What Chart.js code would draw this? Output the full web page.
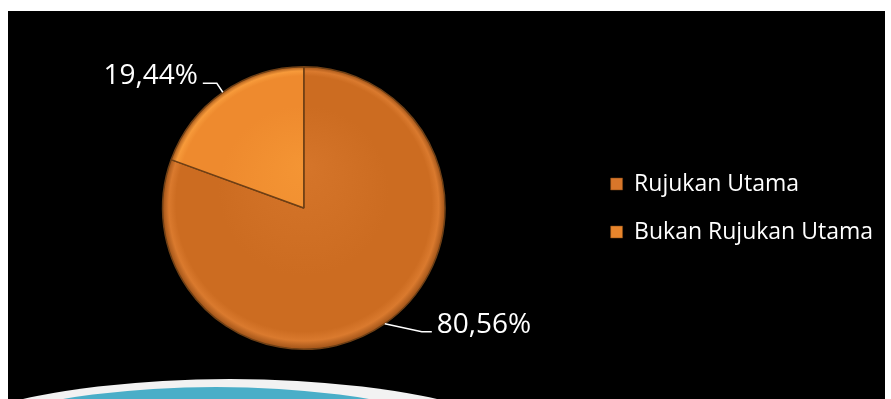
<!DOCTYPE html>
<html>
<head>
<meta charset="utf-8">
<script src="https://cdn.jsdelivr.net/npm/chart.js@4"></script>
<style>
  html, body { margin: 0; padding: 0; background: #fff; }
  #wrap { position: relative; width: 891px; height: 399px; }
</style>
</head>
<body>
<div id="wrap"><canvas id="chart" width="891" height="399"></canvas></div>
<script>
const categories = ['Rujukan Utama', 'Bukan Rujukan Utama']
const shares = [80.56, 19.44]
const shareLabels = ['80,56%', '19,44%']

const sliceColors = ['#CC6C21', '#EE8A2E']
const legendColors = ['#D8762A', '#E8852C']

// slide backdrop: black panel plus the curved band at the bottom
const backdrop = {
  id: 'backdrop',
  beforeDraw(chart) {
    const { ctx } = chart
    ctx.save()
    ctx.fillStyle = '#000'
    ctx.fillRect(8, 11, 877, 388)

    ctx.beginPath()
    ctx.ellipse(230, 479, 345, 100, 0, 0, Math.PI * 2)
    ctx.fillStyle = '#f2f2f2'
    ctx.fill()

    ctx.beginPath()
    ctx.ellipse(216, 487, 322, 100, 0, 0, Math.PI * 2)
    ctx.fillStyle = '#4aaec8'
    ctx.fill()
    ctx.restore()
  },
}

// percentage labels with leader lines
const sliceLabels = {
  id: 'sliceLabels',
  afterDatasetsDraw(chart) {
    const { ctx } = chart
    const arcs = chart.getDatasetMeta(0).data
    ctx.save()
    ctx.font = '28px "Open Sans", sans-serif'
    ctx.fillStyle = '#fff'
    ctx.strokeStyle = '#fff'
    ctx.lineWidth = 1.5
    ctx.textBaseline = 'alphabetic'
    arcs.forEach((arc, i) => {
      const mid = (arc.startAngle + arc.endAngle) / 2
      const px = arc.x + Math.cos(mid) * arc.outerRadius
      const py = arc.y + Math.sin(mid) * arc.outerRadius
      const right = Math.cos(mid) >= 0
      const ex = right ? px + 37 : px - 6
      const ey = right ? py + 8 : py - 9
      const hx = right ? ex + 10 : ex - 14
      ctx.beginPath()
      ctx.moveTo(px, py)
      ctx.lineTo(ex, ey)
      ctx.lineTo(hx, ey)
      ctx.stroke()
      ctx.textAlign = right ? 'left' : 'right'
      ctx.fillText(shareLabels[i], right ? hx + 5 : hx - 5, ey + 1)
    })
    ctx.restore()
  },
}

function sliceFill(context) {
  const chart = context.chart
  const area = chart.chartArea
  const base = sliceColors[context.dataIndex]
  if (!area) return base
  const cx = (area.left + area.right) / 2
  const cy = (area.top + area.bottom) / 2
  const r = Math.min(area.right - area.left, area.bottom - area.top) / 2
  const g = chart.ctx.createRadialGradient(cx, cy - r * 0.3, 0, cx, cy, r)
  const light = context.dataIndex === 0 ? '#D5752A' : '#F49534'
  g.addColorStop(0, light)
  g.addColorStop(0.6, base)
  g.addColorStop(0.9, base)
  g.addColorStop(0.95, context.dataIndex === 0 ? '#DA7A2E' : '#F79A3A')
  g.addColorStop(1, '#9a4f16')
  return g
}

new Chart(document.getElementById('chart'), {
  type: 'pie',
  data: {
    labels: categories,
    datasets: [{
      data: shares,
      backgroundColor: sliceFill,
      borderColor: '#6e3f15',
      borderWidth: 1.5,
    }],
  },
  options: {
    responsive: false,
    animation: false,
    layout: { padding: { top: 66, bottom: 49, left: 22, right: 8 } },
    plugins: {
      tooltip: { enabled: false },
      legend: {
        position: 'right',
        align: 'center',
        labels: {
          color: '#fff',
          font: { family: '"Open Sans", sans-serif', size: 23 },
          boxWidth: 12,
          boxHeight: 12,
          padding: 25,
          generateLabels: () => categories.map((text, i) => ({
            text,
            fillStyle: legendColors[i],
            strokeStyle: '#7a4415',
            lineWidth: 0.5,
            fontColor: '#fff',
            hidden: false,
            index: i,
          })),
        },
      },
    },
  },
  plugins: [backdrop, sliceLabels],
})
</script>
</body>
</html>
